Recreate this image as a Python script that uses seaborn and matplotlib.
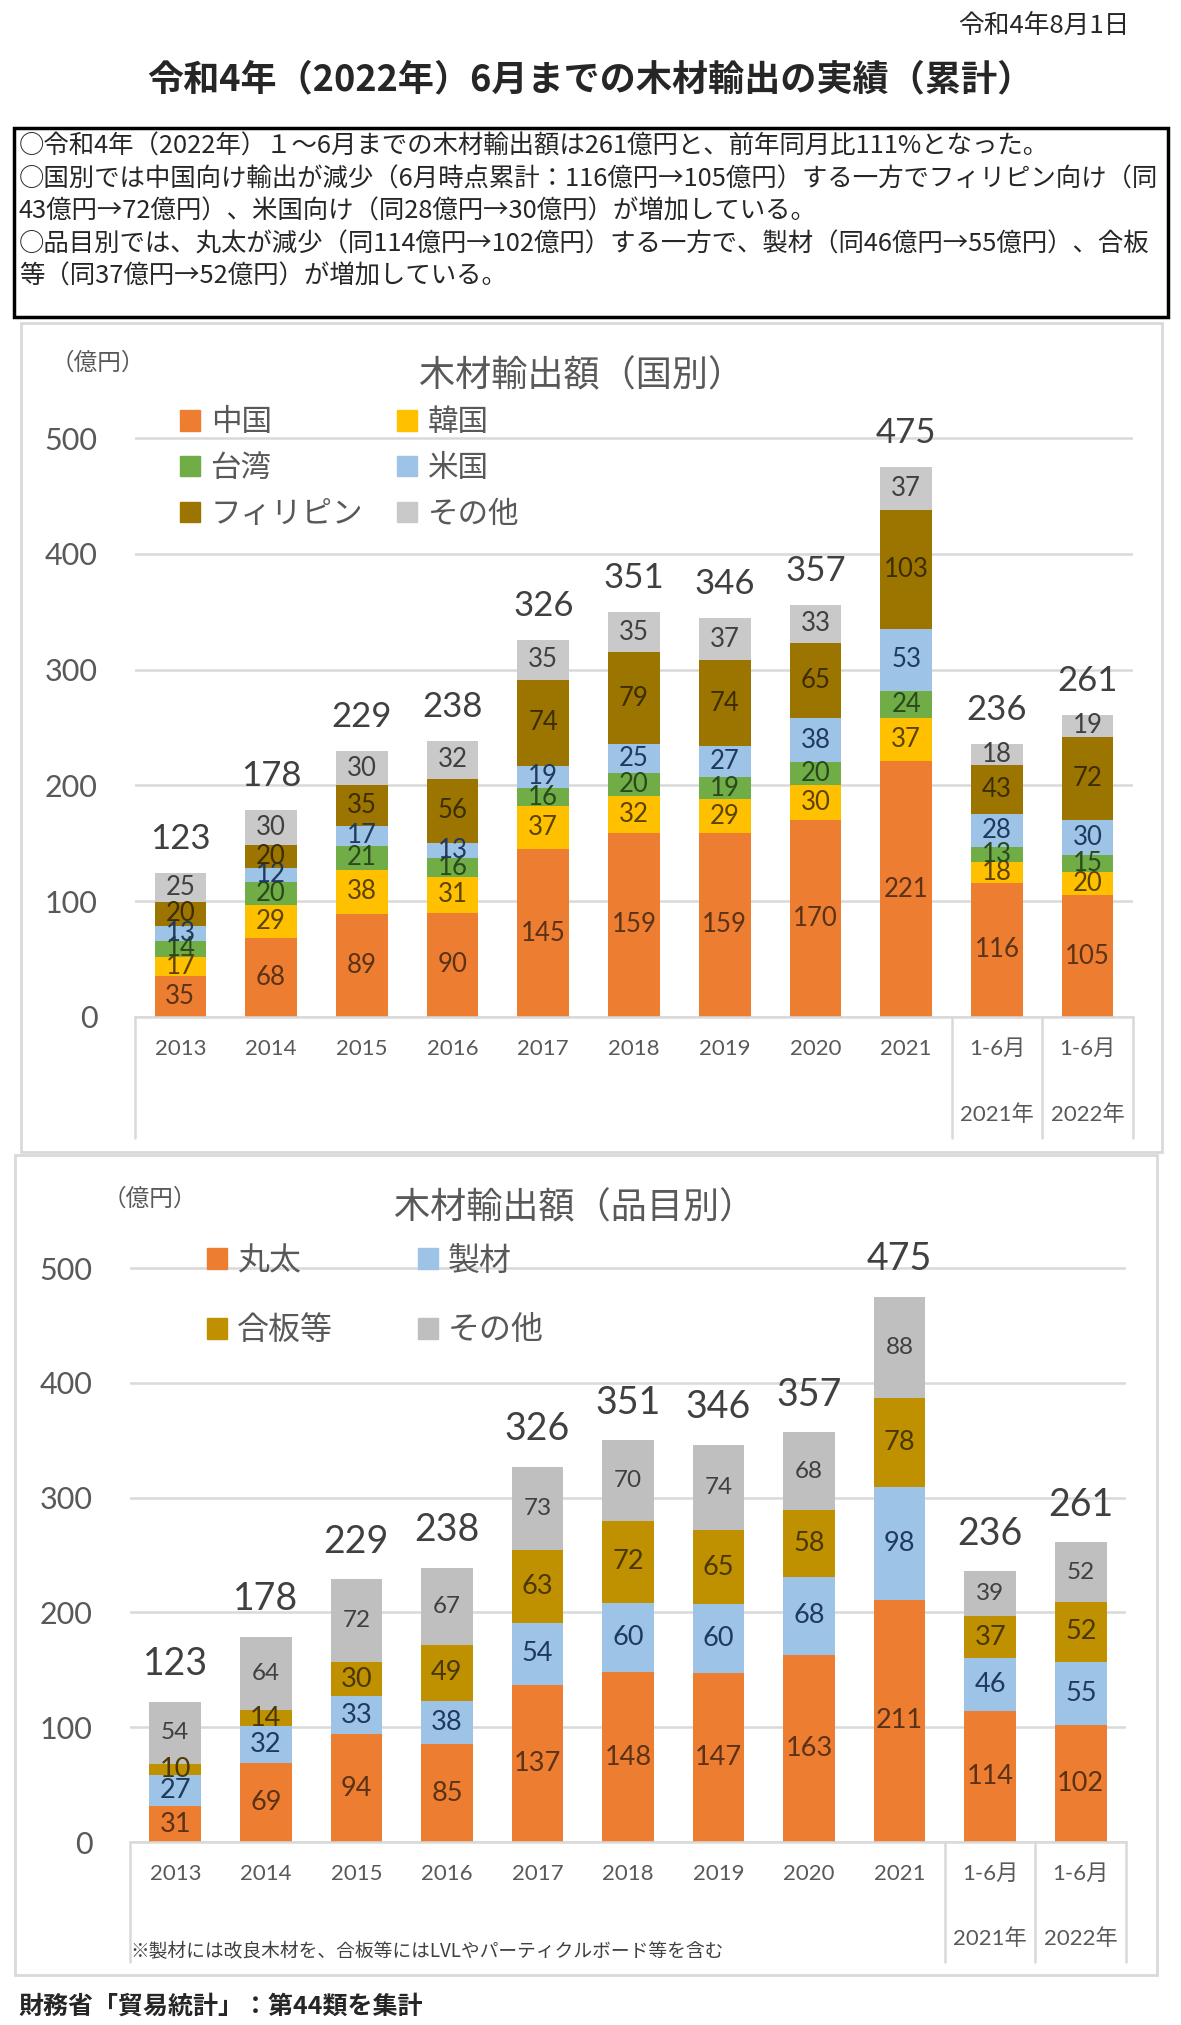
import pandas as pd
import seaborn as sns
import matplotlib.pyplot as plt
import matplotlib.transforms as mtransforms
from matplotlib.patches import Patch, Rectangle


# =====================================#
# DATA
# =====================================#
categories = ["2013", "2014", "2015", "2016", "2017", "2018", "2019",
              "2020", "2021", "2021年1-6月", "2022年1-6月"]
tick_labels = ["2013", "2014", "2015", "2016", "2017", "2018", "2019",
               "2020", "2021", "1-6月", "1-6月"]
sub_labels = ["2021年", "2022年"]

# country breakdown (億円)
country_names = ["中国", "韓国", "台湾", "米国", "フィリピン", "その他"]
china = [35, 68, 89, 90, 145, 159, 159, 170, 221, 116, 105]
korea = [17, 29, 38, 31, 37, 32, 29, 30, 37, 18, 20]
taiwan = [14, 20, 21, 16, 16, 20, 19, 20, 24, 13, 15]
usa = [13, 12, 17, 13, 19, 25, 27, 38, 53, 28, 30]
philippines = [20, 20, 35, 56, 74, 79, 74, 65, 103, 43, 72]
other_country = [25, 30, 30, 32, 35, 35, 37, 33, 37, 18, 19]

# item breakdown (億円)
item_names = ["丸太", "製材", "合板等", "その他"]
logs = [31, 69, 94, 85, 137, 148, 147, 163, 211, 114, 102]
lumber = [27, 32, 33, 38, 54, 60, 60, 68, 98, 46, 55]
plywood = [10, 14, 30, 49, 63, 72, 65, 58, 78, 37, 52]
other_item = [54, 64, 72, 67, 73, 70, 74, 68, 88, 39, 52]

totals = [123, 178, 229, 238, 326, 351, 346, 357, 475, 236, 261]
y_ticks = [0, 100, 200, 300, 400, 500]

header_date = "令和4年8月1日"
header_title = "令和4年（2022年）6月までの木材輸出の実績（累計）"
summary_lines = [
    "○令和4年（2022年）１～6月までの木材輸出額は261億円と、前年同月比111%となった。",
    "○国別では中国向け輸出が減少（6月時点累計：116億円→105億円）する一方でフィリピン向け（同",
    "43億円→72億円）、米国向け（同28億円→30億円）が増加している。",
    "○品目別では、丸太が減少（同114億円→102億円）する一方で、製材（同46億円→55億円）、合板",
    "等（同37億円→52億円）が増加している。",
]
note_text = "※製材には改良木材を、合板等にはLVLやパーティクルボード等を含む"
source_text = "財務省「貿易統計」：第44類を集計"

# =====================================#
# STYLE
# =====================================#
W, H = 1181, 2025
GRID = "#D9D9D9"
TXT = "#595959"
JP = ["Noto Sans CJK JP", "DejaVu Sans"]

sns.set_style("white")
plt.rcParams["font.family"] = ["Lato", "Noto Sans CJK JP", "DejaVu Sans"]


def fx(x):
    return x / W


def fy(y):
    return 1 - y / H


def draw_stack(ax, names, values, colors, text_colors, text_sizes,
               total_size, total_off, width=0.57):
    df = pd.DataFrame(dict(zip(names, values)), index=categories)
    cum = df.cumsum(axis=1)
    plot_df = cum.reset_index(names="cat")
    # stacked bars: draw cumulative sums from the top series down
    for name, color in reversed(list(zip(names, colors))):
        sns.barplot(data=plot_df, x="cat", y=name, order=categories,
                    color=color, saturation=1, width=width, errorbar=None,
                    linewidth=0, ax=ax)
    for k, name in enumerate(names):
        lower = cum[name] - df[name]
        for j, v in enumerate(df[name]):
            ax.text(j, lower.iloc[j] + v / 2, str(v), ha="center",
                    va="center", fontsize=text_sizes[k], color=text_colors[k])
    top = cum[names[-1]]
    for j, t in enumerate(totals):
        ax.annotate(str(t), (j, top.iloc[j]), xytext=(0, total_off),
                    textcoords="offset points", ha="center", va="center",
                    fontsize=total_size, color="#404040")

    ax.set_xlim(-0.5, len(categories) - 0.5)
    ax.set_ylim(0, 501)
    ax.set_yticks(y_ticks)
    ax.set_xticks(range(len(categories)))
    ax.set_xticklabels(tick_labels)
    ax.set_xlabel("")
    ax.set_ylabel("")
    ax.tick_params(axis="x", length=0, pad=16, labelsize=16, labelcolor=TXT)
    ax.tick_params(axis="y", length=0, pad=27, labelsize=22, labelcolor=TXT)
    ax.yaxis.grid(True, color=GRID, lw=1.8)
    ax.set_axisbelow(True)
    for s in ["left", "right", "top"]:
        ax.spines[s].set_visible(False)
    ax.spines["bottom"].set_color(GRID)
    ax.spines["bottom"].set_linewidth(1.8)

    # category separators under the axis
    trans = mtransforms.blended_transform_factory(ax.transData, ax.transAxes)
    for xs in [-0.5, 8.5, 9.5, 10.5]:
        ax.plot([xs, xs], [0, -0.208], color=GRID, lw=1.8, transform=trans,
                clip_on=False)
    for j, lab in zip([9, 10], sub_labels):
        ax.text(j, -0.168, lab, transform=trans, ha="center", va="center",
                fontsize=16, color=TXT)


fig = plt.figure(figsize=(W / 100, H / 100), dpi=100)

# header
fig.text(fx(1130), fy(26), header_date, ha="right", va="center",
         fontsize=18.5, family=JP)
fig.text(fx(590), fy(80), header_title, ha="center", va="center",
         fontsize=26, fontweight="bold", family=JP)
fig.patches.append(Rectangle((fx(14), fy(317)), fx(1154), (317 - 128) / H,
                             transform=fig.transFigure, fill=False,
                             edgecolor="black", lw=2.5))
for i, line in enumerate(summary_lines):
    fig.text(fx(19), fy(147 + 32.5 * i), line, ha="left", va="center",
             fontsize=18.3, family=JP)

# panel frames
fig.patches.append(Rectangle((fx(21), fy(1152)), fx(1141), (1152 - 323) / H,
                             transform=fig.transFigure, fill=False,
                             edgecolor=GRID, lw=2))
fig.patches.append(Rectangle((fx(15), fy(1975)), fx(1142), (1975 - 1155) / H,
                             transform=fig.transFigure, fill=False,
                             edgecolor=GRID, lw=2))

# =====================================#
# TOP: by country
# =====================================#
ax1 = fig.add_axes([fx(135), fy(1017), fx(998), 580 / H])
country_colors = ["#ED7D31", "#FFC000", "#70AD47", "#9DC3E6", "#9C7400", "#C9C9C9"]
country_text = ["#5B3216", "#5C4300", "#2B4A1C", "#1F3A5F", "#3D2E00", "#404040"]
draw_stack(ax1, country_names,
           [china, korea, taiwan, usa, philippines, other_country],
           country_colors, country_text, [18.5] * 6, 25, 24.5)
fig.text(fx(582), fy(375), "木材輸出額（国別）", ha="center", va="center",
         fontsize=26, color=TXT)
fig.text(fx(98), fy(363), "（億円）", ha="center", va="center",
         fontsize=17, color=TXT)
order = [0, 2, 4, 1, 3, 5]
ax1.legend([Patch(color=country_colors[i]) for i in order],
           [country_names[i] for i in order],
           loc="upper left", bbox_to_anchor=(fx(180), fy(408)),
           bbox_transform=fig.transFigure, ncol=2, frameon=False,
           fontsize=22, labelcolor=TXT, borderpad=0, borderaxespad=0,
           handlelength=0.65, handleheight=0.65, handletextpad=0.35,
           labelspacing=0.58, columnspacing=1.12)

# =====================================#
# BOTTOM: by item
# =====================================#
ax2 = fig.add_axes([fx(130), fy(1842), fx(996), 575 / H])
item_colors = ["#ED7D31", "#9DC3E6", "#BF9000", "#BFBFBF"]
item_text = ["#5B3216", "#1F3A5F", "#4A3800", "#404040"]
draw_stack(ax2, item_names, [logs, lumber, plywood, other_item],
           item_colors, item_text, [19.5, 19.5, 19.5, 17.5], 27, 27)
fig.text(fx(575), fy(1207), "木材輸出額（品目別）", ha="center", va="center",
         fontsize=26, color=TXT)
fig.text(fx(150), fy(1198), "（億円）", ha="center", va="center",
         fontsize=17, color=TXT)
order = [0, 2, 1, 3]
ax2.legend([Patch(color=item_colors[i]) for i in order],
           [item_names[i] for i in order],
           loc="upper left", bbox_to_anchor=(fx(207), fy(1246)),
           bbox_transform=fig.transFigure, ncol=2, frameon=False,
           fontsize=23, labelcolor=TXT, borderpad=0, borderaxespad=0,
           handlelength=0.63, handleheight=0.63, handletextpad=0.3,
           labelspacing=1.23, columnspacing=2.68)
fig.text(fx(130), fy(1952), note_text, ha="left", va="center",
         fontsize=13.5, color="#404040", family=JP)

# footer
fig.text(fx(19), fy(2007), source_text, ha="left", va="center",
         fontsize=18, fontweight="bold", family=JP)

fig.savefig("out.png", dpi=100)
